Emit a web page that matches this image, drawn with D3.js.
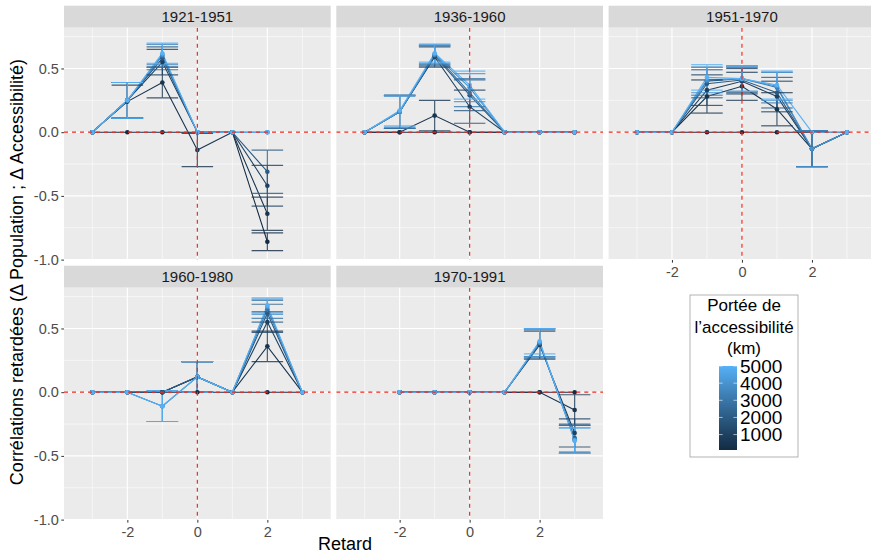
<!DOCTYPE html>
<html>
<head>
<meta charset="utf-8">
<script src="https://cdn.jsdelivr.net/npm/d3@7"></script>
<style>
body { margin: 0; background: white; }
text { font-family: "Liberation Sans", Arial, sans-serif; }
</style>
</head>
<body>
<div id="chart"></div>
<script>
const periods = ["1921-1951", "1936-1960", "1951-1970", "1960-1980", "1970-1991"];
const lags = [-3, -2, -1, 0, 1, 2, 3];
const portees = [100, 500, 1000, 2000, 3000, 4000, 5000];
const legendTicks = [1000, 2000, 3000, 4000, 5000];
const yTicks = [-1.0, -0.5, 0.0, 0.5];
const yMinor = [-0.75, -0.25, 0.25, 0.75];
const xTicks = [-2, 0, 2];
const xMinor = [-3, -1, 1, 3];

// lagged correlations: one row per portée (km), one column per lag (-3..3)
const r1921 = [
    [0, 0, 0, 0, 0, -0.86, null],
    [0, 0.24, 0.39, -0.14, 0, -0.64, null],
    [0, 0.25, 0.55, 0, 0, -0.42, null],
    [0, 0.25, 0.58, 0, 0, -0.31, null],
    [0, 0.25, 0.60, 0, 0, 0, null],
    [0, 0.25, 0.61, 0, 0, 0, null],
    [0, 0.25, 0.62, 0, 0, 0, null]
];
// half width of the confidence interval (0 = no bar)
const e1921 = [
    [0, 0, 0, 0, 0, 0.07, 0],
    [0, 0.13, 0.12, 0.13, 0, 0.13, 0],
    [0, 0.14, 0.10, 0, 0, 0.16, 0],
    [0, 0.14, 0.09, 0, 0, 0.17, 0],
    [0, 0.14, 0.09, 0, 0, 0, 0],
    [0, 0.14, 0.08, 0, 0, 0, 0],
    [0, 0.14, 0.08, 0, 0, 0, 0]
];
const r1936 = [
    [0, 0, 0, 0, 0, 0, 0],
    [0, 0, 0.13, 0, 0, 0, 0],
    [0, 0.16, 0.59, 0.20, 0, 0, 0],
    [0, 0.16, 0.60, 0.29, 0, 0, 0],
    [0, 0.16, 0.61, 0.31, 0, 0, 0],
    [0, 0.16, 0.61, 0.35, 0, 0, 0],
    [0, 0.17, 0.62, 0.37, 0, 0, 0]
];
const e1936 = [
    [0, 0, 0, 0, 0, 0, 0],
    [0, 0, 0.12, 0, 0, 0, 0],
    [0, 0.13, 0.08, 0.13, 0, 0, 0],
    [0, 0.13, 0.08, 0.12, 0, 0, 0],
    [0, 0.13, 0.08, 0.11, 0, 0, 0],
    [0, 0.12, 0.07, 0.11, 0, 0, 0],
    [0, 0.12, 0.07, 0.11, 0, 0, 0]
];
const r1951 = [
    [0, 0, 0, 0, 0, 0, 0],
    [0, 0, 0.28, 0.36, 0.18, -0.13, 0],
    [0, 0, 0.33, 0.40, 0.28, -0.13, 0],
    [0, 0, 0.38, 0.41, 0.31, -0.13, 0],
    [0, 0, 0.40, 0.42, 0.35, -0.13, 0],
    [0, 0, 0.41, 0.42, 0.36, -0.13, 0],
    [0, 0, 0.43, 0.42, 0.37, 0, 0]
];
const e1951 = [
    [0, 0, 0, 0, 0, 0, 0],
    [0, 0, 0.13, 0.11, 0.13, 0.14, 0],
    [0, 0, 0.12, 0.10, 0.12, 0.14, 0],
    [0, 0, 0.11, 0.10, 0.12, 0.14, 0],
    [0, 0, 0.11, 0.10, 0.12, 0.14, 0],
    [0, 0, 0.10, 0.10, 0.11, 0.14, 0],
    [0, 0, 0.10, 0.10, 0.11, 0, 0]
];
const r1960 = [
    [0, 0, 0, 0, 0, 0, 0],
    [0, 0, 0, 0.12, 0, 0.36, 0],
    [0, 0, 0, 0.12, 0, 0.55, 0],
    [0, 0, 0, 0.12, 0, 0.62, 0],
    [0, 0, -0.11, 0.12, 0, 0.65, 0],
    [0, 0, -0.11, 0.12, 0, 0.67, 0],
    [0, 0, -0.11, 0.12, 0, 0.68, 0]
];
const e1960 = [
    [0, 0, 0, 0, 0, 0, 0],
    [0, 0, 0, 0.12, 0, 0.12, 0],
    [0, 0, 0, 0.12, 0, 0.08, 0],
    [0, 0, 0, 0.12, 0, 0.07, 0],
    [0, 0, 0.12, 0.12, 0, 0.07, 0],
    [0, 0, 0.12, 0.12, 0, 0.06, 0],
    [0, 0, 0.12, 0.12, 0, 0.06, 0]
];
const r1970 = [
    [null, 0, 0, 0, 0, 0, 0],
    [null, 0, 0, 0, 0, 0, -0.14],
    [null, 0, 0, 0, 0, 0.37, -0.32],
    [null, 0, 0, 0, 0, 0.38, -0.36],
    [null, 0, 0, 0, 0, 0.39, -0.37],
    [null, 0, 0, 0, 0, 0.39, -0.38],
    [null, 0, 0, 0, 0, 0.40, -0.38]
];
const e1970 = [
    [0, 0, 0, 0, 0, 0, 0],
    [0, 0, 0, 0, 0, 0, 0.12],
    [0, 0, 0, 0, 0, 0.11, 0.11],
    [0, 0, 0, 0, 0, 0.11, 0.11],
    [0, 0, 0, 0, 0, 0.11, 0.11],
    [0, 0, 0, 0, 0, 0.11, 0.10],
    [0, 0, 0, 0, 0, 0.10, 0.10]
];

const corr = [r1921, r1936, r1951, r1960, r1970];
const errs = [e1921, e1936, e1951, e1960, e1970];

// one series per period and portée
const series = [];
periods.forEach((p, k) => {
    portees.forEach((km, i) => {
        series.push({
            period: p,
            km: km,
            values: lags.map((lag, j) => ({lag: lag, r: corr[k][i][j], e: errs[k][i][j]}))
        });
    });
});

// dimensions
const width = 871, height = 553;
const panelW = 266.7, panelH = 232.3, stripH = 22;
const colX = [64, 336.3, 608.6];
const rowY = [5.7, 265.7];

const x = d3.scaleLinear().domain([-3.81, 3.81]).range([0, panelW]);
const y = d3.scaleLinear().domain([-1.003, 0.82]).range([panelH, 0]);
const color = d3.scaleLinear().domain([100, 5000]).range(["#132B43", "#56B1F7"]).interpolate(d3.interpolateLab);

const svg = d3.select("#chart").append("svg").attr("width", width).attr("height", height);

svg.append("defs").append("clipPath").attr("id", "panelClip")
    .append("rect").attr("width", panelW).attr("height", panelH);

const line = d3.line()
    .defined(d => d.r !== null)
    .x(d => x(d.lag))
    .y(d => y(d.r));

periods.forEach((p, k) => {
    const col = k % 3, row = Math.floor(k / 3);
    const g = svg.append("g").attr("transform", `translate(${colX[col]},${rowY[row]})`);

    // strip
    g.append("rect").attr("width", panelW).attr("height", stripH).attr("fill", "#D9D9D9");
    g.append("text").attr("x", panelW / 2).attr("y", stripH / 2).attr("dy", "0.35em")
        .attr("text-anchor", "middle").attr("font-size", 15).attr("fill", "#1A1A1A").text(p);

    const pg = g.append("g").attr("transform", `translate(0,${stripH})`);
    pg.append("rect").attr("width", panelW).attr("height", panelH).attr("fill", "#EBEBEB");

    // grid
    pg.selectAll("line.ymin").data(yMinor).join("line").attr("class", "ymin")
        .attr("x1", 0).attr("x2", panelW).attr("y1", d => y(d)).attr("y2", d => y(d))
        .attr("stroke", "white").attr("stroke-width", 0.55);
    pg.selectAll("line.xmin").data(xMinor).join("line").attr("class", "xmin")
        .attr("x1", d => x(d)).attr("x2", d => x(d)).attr("y1", 0).attr("y2", panelH)
        .attr("stroke", "white").attr("stroke-width", 0.55);
    pg.selectAll("line.ymaj").data(yTicks).join("line").attr("class", "ymaj")
        .attr("x1", 0).attr("x2", panelW).attr("y1", d => y(d)).attr("y2", d => y(d))
        .attr("stroke", "white").attr("stroke-width", 1.1);
    pg.selectAll("line.xmaj").data(xTicks).join("line").attr("class", "xmaj")
        .attr("x1", d => x(d)).attr("x2", d => x(d)).attr("y1", 0).attr("y2", panelH)
        .attr("stroke", "white").attr("stroke-width", 1.1);

    const data = series.filter(s => s.period === p);
    const plot = pg.append("g").attr("clip-path", "url(#panelClip)");

    plot.selectAll("path.serie").data(data).join("path").attr("class", "serie")
        .attr("d", d => line(d.values))
        .attr("fill", "none")
        .attr("stroke", d => color(d.km))
        .attr("stroke-width", 1.1);

    // error bars
    const bars = data.flatMap(s => s.values.filter(v => v.r !== null && v.e > 0).map(v => ({...v, km: s.km})));
    const eb = plot.selectAll("g.eb").data(bars).join("g").attr("class", "eb")
        .attr("stroke", d => color(d.km)).attr("stroke-width", 1.2).attr("opacity", 0.8);
    eb.append("line").attr("x1", d => x(d.lag)).attr("x2", d => x(d.lag))
        .attr("y1", d => y(d.r - d.e)).attr("y2", d => y(d.r + d.e));
    eb.append("line").attr("x1", d => x(d.lag - 0.45)).attr("x2", d => x(d.lag + 0.45))
        .attr("y1", d => y(d.r + d.e)).attr("y2", d => y(d.r + d.e));
    eb.append("line").attr("x1", d => x(d.lag - 0.45)).attr("x2", d => x(d.lag + 0.45))
        .attr("y1", d => y(d.r - d.e)).attr("y2", d => y(d.r - d.e));

    // points
    const pts = data.flatMap(s => s.values.filter(v => v.r !== null).map(v => ({...v, km: s.km})));
    plot.selectAll("circle").data(pts).join("circle")
        .attr("cx", d => x(d.lag)).attr("cy", d => y(d.r)).attr("r", 2.3)
        .attr("fill", d => color(d.km));

    // reference lines
    plot.append("line").attr("x1", 0).attr("x2", panelW).attr("y1", y(0)).attr("y2", y(0))
        .attr("stroke", "#F5281C").attr("stroke-width", 1.2).attr("stroke-dasharray", "4,4");
    plot.append("line").attr("x1", x(0)).attr("x2", x(0)).attr("y1", 0).attr("y2", panelH)
        .attr("stroke", "#F5281C").attr("stroke-width", 1.2).attr("stroke-dasharray", "4,4");

    // y axis on first column
    if (col === 0) {
        const ay = pg.append("g").call(d3.axisLeft(y).tickValues(yTicks).tickSize(2.7).tickPadding(2.5)
            .tickFormat(d => d.toFixed(1)));
        ay.select(".domain").remove();
        ay.selectAll("line").attr("stroke", "#333333");
        ay.selectAll("text").attr("font-size", 14.5).attr("fill", "#4D4D4D");
    }
    // x axis under the lowest panel of each column
    if (row === 1 || col === 2) {
        const ax = pg.append("g").attr("transform", `translate(0,${panelH})`)
            .call(d3.axisBottom(x).tickValues(xTicks).tickSize(2.7).tickPadding(4).tickFormat(d => d.toString()));
        ax.select(".domain").remove();
        ax.selectAll("line").attr("stroke", "#333333");
        ax.selectAll("text").attr("font-size", 14.5).attr("fill", "#4D4D4D");
    }
});

// axis titles
svg.append("text").attr("x", 345).attr("y", 550).attr("text-anchor", "middle")
    .attr("font-size", 18).attr("fill", "black").text("Retard");
svg.append("text").attr("transform", "translate(23,272) rotate(-90)").attr("text-anchor", "middle")
    .attr("font-size", 18).attr("fill", "black").text("Corrélations retardées (Δ Population ; Δ Accessibilité)");

// legend
const legendG = svg.append("g");
legendG.append("rect").attr("x", 690).attr("y", 295).attr("width", 108).attr("height", 162)
    .attr("fill", "white").attr("stroke", "#A0A0A0").attr("stroke-width", 0.8);
legendG.selectAll("text.title").data(["Portée de", "l’accessibilité", "(km)"]).join("text")
    .attr("class", "title")
    .attr("x", 744).attr("y", (d, i) => 311 + i * 21.5).attr("text-anchor", "middle")
    .attr("font-size", 17).attr("fill", "black").text(d => d);

const barScale = d3.scaleLinear().domain([100, 5000]).range([450, 366]);
const grad = svg.select("defs").append("linearGradient").attr("id", "barGrad")
    .attr("x1", 0).attr("y1", 1).attr("x2", 0).attr("y2", 0);
d3.range(0, 1.001, 0.1).forEach(t => {
    grad.append("stop").attr("offset", t).attr("stop-color", color(100 + t * 4900));
});
legendG.append("rect").attr("x", 719).attr("y", 366).attr("width", 18).attr("height", 84)
    .attr("fill", "url(#barGrad)");
legendG.selectAll("line.tick").data(legendTicks).join("line").attr("class", "tick")
    .attr("x1", 719).attr("x2", 722.6).attr("y1", d => barScale(d)).attr("y2", d => barScale(d))
    .attr("stroke", "white").attr("stroke-width", 0.6);
legendG.selectAll("line.tick2").data(legendTicks).join("line").attr("class", "tick2")
    .attr("x1", 733.4).attr("x2", 737).attr("y1", d => barScale(d)).attr("y2", d => barScale(d))
    .attr("stroke", "white").attr("stroke-width", 0.6);
legendG.selectAll("text.lab").data(legendTicks).join("text").attr("class", "lab")
    .attr("x", 740).attr("y", d => barScale(d)).attr("dy", "0.36em")
    .attr("font-size", 19).attr("fill", "black").text(d => d);
</script>
</body>
</html>
